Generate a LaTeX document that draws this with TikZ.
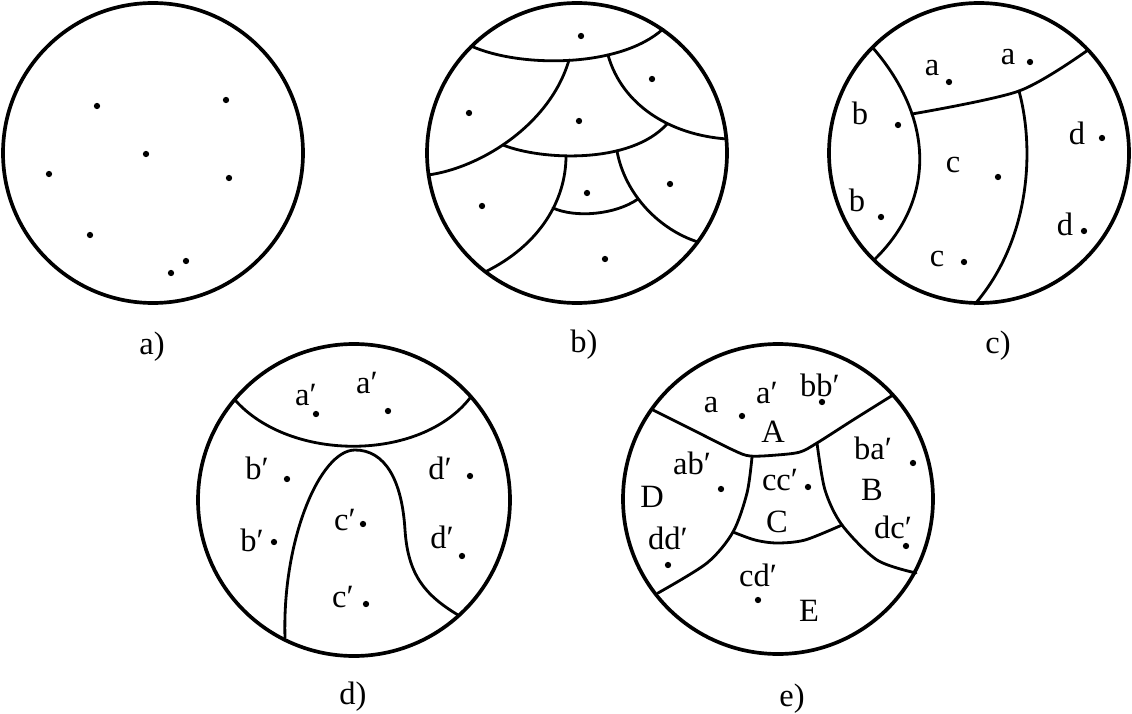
\documentclass[tikz,border=0pt]{standalone}
\usepackage{fontspec}
\setmainfont{Liberation Serif}
\usetikzlibrary{positioning}
\tikzset{
	defaultstyle/.style={
		x=0.02cm,
		y=-0.02cm,
		line join=round,
		line cap=round,
		every node/.style={font=\fontsize{18.5}{20}\selectfont}}}

\begin{document}
\begin{tikzpicture}[defaultstyle,
	rim/.style={line width=2.1pt},
	wall/.style={line width=1.6pt},
	pt/.style={circle, fill, inner sep=0pt, minimum size=3.6pt},
	lbl/.style={inner sep=0pt},
	]
	\useasboundingbox (0,0) rectangle (1132,713);
	
	% a)
	\coordinate (oa) at (153,153);
	\draw[rim] (oa) circle (150);
	\foreach \x/\y [count=\i] in {97/106, 226/100, 146/154, 49/174, 229/178, 90/235, 186/261, 171/273}
		\node[pt] (pa\i) at (\x,\y) {};
	\node (capa) at (152,347) {a)};
	
	% b)
	\coordinate (ob) at (577,153);
	\draw[rim] (ob) circle (150);
	\coordinate (j1) at (569,60);
	\coordinate (j2) at (608,55);
	\coordinate (j3) at (503,145);
	\coordinate (j4) at (667,124);
	\coordinate (j5) at (566,156);
	\coordinate (j6) at (617,151);
	\coordinate (j7) at (553,208);
	\coordinate (j8) at (638,199);
	\draw[wall] (471,46) .. controls (520,68) and (620,68) .. (663,29);
	\draw[wall] (j1) .. controls (550,125) and (480,168) .. (428,175);
	\draw[wall] (j2) .. controls (622,105) and (670,135) .. (727,139);
	\draw[wall] (j3) .. controls (540,160) and (630,165) .. (j4);
	\draw[wall] (j5) .. controls (566,200) and (540,245) .. (485,272);
	\draw[wall] (j6) .. controls (625,195) and (660,230) .. (698,242);
	\draw[wall] (j7) .. controls (575,218) and (615,215) .. (j8);
	\foreach \x/\y [count=\i] in {581/36, 652/79, 469/113, 579/121, 670/184, 587/193, 482/206, 605/259}
		\node[pt] (pb\i) at (\x,\y) {};
	\node (capb) at (584,345) {b)};
	
	% c)
	\coordinate (oc) at (979,153);
	\draw[rim] (oc) circle (150);
	\draw[wall] (873,48) .. controls (935,120) and (935,200) .. (875,259);
	\draw[wall] plot[smooth] coordinates {(912,114) (1019,91) (1088,50)};
	\draw[wall] (1019,91) .. controls (1035,150) and (1030,240) .. (975,304);
	\node[lbl] (ca1) at (932,68) {a};   \node[pt] (cp1) at (949,82) {};
	\node[lbl] (ca2) at (1008,57) {a};  \node[pt] (cp2) at (1030,62) {};
	\node[lbl] (cb1) at (860,113) {b};  \node[pt] (cp3) at (898,125) {};
	\node[lbl] (cb2) at (857,200) {b};  \node[pt] (cp4) at (881,217) {};
	\node[lbl] (cc1) at (953,165) {c};  \node[pt] (cp5) at (998,177) {};
	\node[lbl] (cc2) at (937,259) {c};  \node[pt] (cp6) at (964,262) {};
	\node[lbl] (cd1) at (1077,133) {d}; \node[pt] (cp7) at (1102,138) {};
	\node[lbl] (cd2) at (1065,224) {d}; \node[pt] (cp8) at (1084,231) {};
	\node (capc) at (998,346) {c)};
	
	% d)
	\coordinate (od) at (354,500);
	\draw[rim] (od) circle (156);
	\draw[wall] (235,400) .. controls (290,462) and (420,462) .. (470,398);
	\draw[wall] (285,638) .. controls (282,540) and (320,450) .. (355,450)
		.. controls (385,450) and (402,480) .. (405,530)
		.. controls (408,575) and (425,595) .. (458,615);
	\node[lbl] (da1) at (306,395) {a′}; \node[pt] (dp1) at (316,414) {};
	\node[lbl] (da2) at (367,383) {a′}; \node[pt] (dp2) at (388,411) {};
	\node[lbl] (db1) at (257,468) {b′}; \node[pt] (dp3) at (287,479) {};
	\node[lbl] (db2) at (252,540) {b′}; \node[pt] (dp4) at (274,542) {};
	\node[lbl] (dc1) at (345,520) {c′}; \node[pt] (dp5) at (363,524) {};
	\node[lbl] (dc2) at (343,597) {c′}; \node[pt] (dp6) at (366,604) {};
	\node[lbl] (dd1) at (440,468) {d′}; \node[pt] (dp7) at (470,476) {};
	\node[lbl] (dd2) at (442,537) {d′}; \node[pt] (dp8) at (462,556) {};
	\node (capd) at (353,697) {d)};
	
	% e)
	\coordinate (oe) at (778,499);
	\draw[rim] (oe) circle (155);
	\draw[wall] plot[smooth] coordinates {(653,410) (693,430) (733,450) (750,456) (777,455) (800,452) (817,443) (853,420) (893,395)};
	\draw[wall] plot[smooth] coordinates {(752,457) (747,493) (733,532) (707,563) (658,593)};
	\draw[wall] plot[smooth] coordinates {(817,443) (825,490) (842,525) (877,560) (916,573)};
	\draw[wall] plot[smooth] coordinates {(733,532) (755,540) (777,543) (805,540) (842,525)};
	\node[lbl] (ea) at (711,405) {a};     \node[pt] (ep1) at (742,416) {};
	\node[lbl] (eaa) at (767,393) {a′};
	\node[lbl] (ebb) at (820,385) {bb′};  \node[pt] (ep2) at (822,402) {};
	\node[lbl] (eA) at (773,432) {A};
	\node[lbl] (eab) at (692,463) {ab′};  \node[pt] (ep3) at (721,489) {};
	\node[lbl] (eD) at (652,497) {D};
	\node[lbl] (edd) at (668,538) {dd′};  \node[pt] (ep4) at (668,565) {};
	\node[lbl] (ecc) at (780,480) {cc′};  \node[pt] (ep5) at (808,487) {};
	\node[lbl] (eC) at (777,522) {C};
	\node[lbl] (eba) at (873,448) {ba′};  \node[pt] (ep6) at (913,463) {};
	\node[lbl] (eB) at (872,490) {B};
	\node[lbl] (edc) at (893,527) {dc′};  \node[pt] (ep7) at (906,546) {};
	\node[lbl] (ecd) at (758,575) {cd′};  \node[pt] (ep8) at (758,600) {};
	\node[lbl] (eE) at (809,611) {E};
	\node (cape) at (792,699) {e)};
	
\end{tikzpicture}
\end{document}
